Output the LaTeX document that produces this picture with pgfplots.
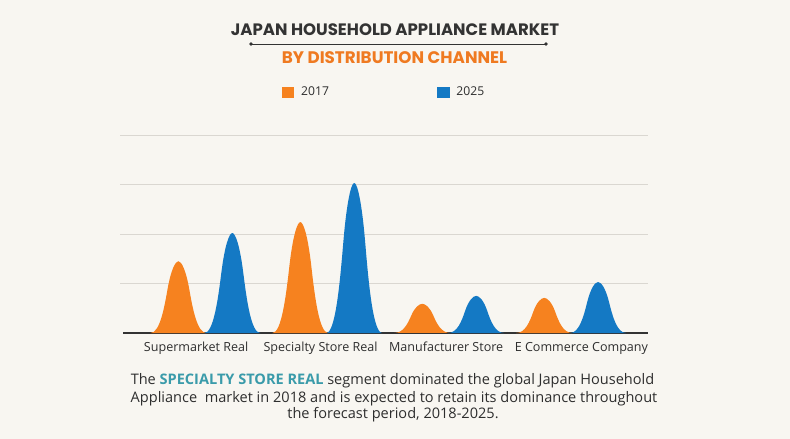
\documentclass[border=0pt]{standalone}
\usepackage{pgfplots}
\pgfplotsset{compat=1.18}
\usepackage{fontspec}
\setmainfont{Open Sans}
\newfontfamily\titlefont{Poppins}
\definecolor{bg}{HTML}{F8F6F1}
\definecolor{corange}{HTML}{F6821F}
\definecolor{cblue}{HTML}{1479C4}
\definecolor{ctitle}{HTML}{333333}
\definecolor{csub}{HTML}{EF7A21}
\definecolor{cteal}{HTML}{3A9BAA}
\definecolor{cgrid}{HTML}{DAD7D1}
\definecolor{ctext}{HTML}{2E2E2E}
\pgfdeclareplotmark{bell}{%
  \pgfmathsetmacro\bellH{\rawy*49.5}%
  \pgfpathmoveto{\pgfpoint{-28bp}{-\bellH bp}}%
  \pgfpathcurveto{\pgfpoint{-19bp}{-\bellH bp}}{\pgfpoint{-14.5bp}{-0.68*\bellH bp}}{\pgfpoint{-11bp}{-0.4*\bellH bp}}%
  \pgfpathcurveto{\pgfpoint{-7.5bp}{-0.12*\bellH bp}}{\pgfpoint{-3bp}{0bp}}{\pgfpoint{0bp}{0bp}}%
  \pgfpathcurveto{\pgfpoint{3bp}{0bp}}{\pgfpoint{7.5bp}{-0.12*\bellH bp}}{\pgfpoint{11bp}{-0.4*\bellH bp}}%
  \pgfpathcurveto{\pgfpoint{14.5bp}{-0.68*\bellH bp}}{\pgfpoint{19bp}{-\bellH bp}}{\pgfpoint{28bp}{-\bellH bp}}%
  \pgfpathclose
  \pgfusepathqfill
}
\begin{document}
\begin{tikzpicture}
\fill[bg] (0bp,0bp) rectangle (790bp,439bp);
\begin{axis}[
  at={(120bp,106bp)}, anchor=south west,
  scale only axis, width=528bp, height=198bp,
  xmin=-0.70, xmax=3.63, ymin=0, ymax=4,
  axis line style={draw=none},
  major tick length=0pt,
  ytick={1,2,3,4}, yticklabels={},
  ymajorgrids, grid style={cgrid, line width=1bp},
  xtick={-0.076,0.945,1.975,3.084},
  xticklabels={Supermarket Real, Specialty Store Real, Manufacturer Store, E Commerce Company},
  xticklabel style={font=\fontsize{12.6}{15}\selectfont, text=ctext, anchor=base, yshift=-19bp},
  legend columns=2,
  legend cell align=left,
  legend style={at={(0.5,1.2157)}, anchor=center, draw=none, fill=none,
    font=\fontsize{12.2}{14}\selectfont, text=ctext,
    /tikz/every even column/.append style={column sep=106bp}},
  clip=false,
]
\addlegendimage{legend image code/.code={\fill[corange] (0bp,-5.25bp) rectangle (11.5bp,5.25bp); \path (17bp,0bp);}}
\addlegendentry{2017}
\addlegendimage{legend image code/.code={\fill[cblue] (0bp,-5.25bp) rectangle (11.5bp,5.25bp); \path (17bp,0bp);}}
\addlegendentry{2025}
\addplot[forget plot, only marks, mark=bell, mark options={fill=corange, draw=none},
  visualization depends on={rawy \as \rawy}]
  coordinates {(-0.221,1.45) (0.779,2.24) (1.779,0.59) (2.779,0.71)};
\addplot[forget plot, only marks, mark=bell, mark options={fill=cblue, draw=none},
  visualization depends on={rawy \as \rawy}]
  coordinates {(0.221,2.02) (1.221,3.03) (2.221,0.75) (3.221,1.03)};
\draw[line width=2.5bp, ctitle] (axis cs:-0.672,0) -- (axis cs:3.63,0);
\end{axis}
\node[font=\titlefont\bfseries\fontsize{16.6}{19}\selectfont, text=ctitle] at (395bp,409bp) {JAPAN HOUSEHOLD APPLIANCE MARKET};
\draw[ctitle, line width=0.8bp] (251bp,395bp) -- (546bp,395bp);
\fill[ctitle] (251bp,395bp) circle (1.8bp) (546bp,395bp) circle (1.8bp);
\node[font=\titlefont\bfseries\fontsize{16.8}{19}\selectfont, text=csub] at (394.5bp,381bp) {BY DISTRIBUTION CHANNEL};
\node[font=\fontsize{14.6}{17}\selectfont, text=ctext, anchor=base] at (392.5bp,54bp) {The \textbf{\color{cteal}SPECIALTY STORE REAL} segment dominated the global Japan Household};
\node[font=\fontsize{14.6}{17}\selectfont, text=ctext, anchor=base] at (394bp,37bp) {Appliance\ \ market in 2018 and is expected to retain its dominance throughout};
\node[font=\fontsize{14.6}{17}\selectfont, text=ctext, anchor=base] at (393bp,21bp) {the forecast period, 2018-2025.};
\end{tikzpicture}
\end{document}
